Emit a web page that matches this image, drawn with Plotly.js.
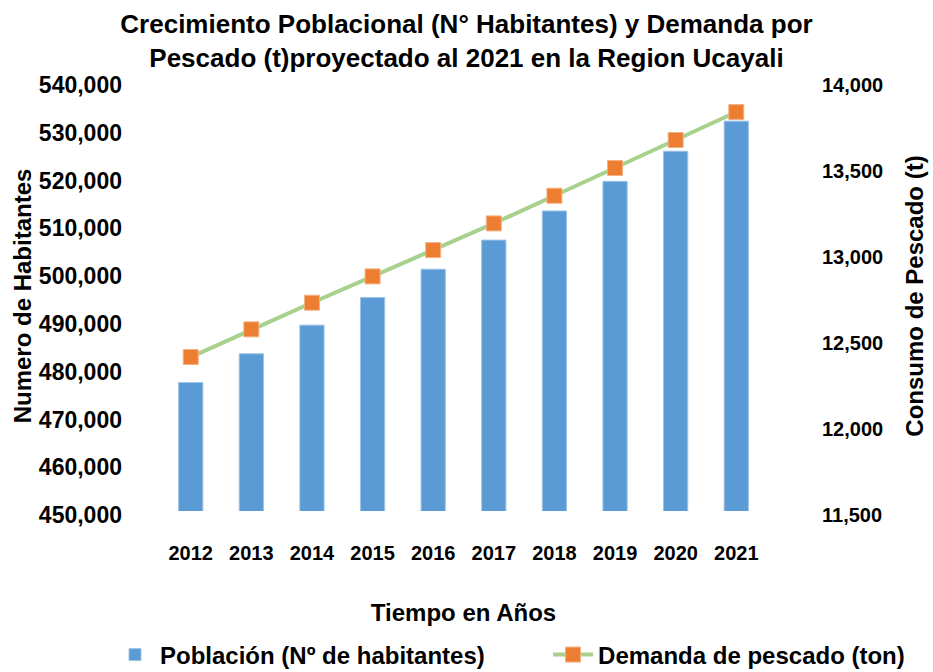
<!DOCTYPE html>
<html>
<head>
<meta charset="utf-8">
<script src="https://cdn.plot.ly/plotly-3.0.1.min.js"></script>
<style>html,body{margin:0;padding:0;background:#fff;}#chart{width:933px;height:672px;}</style>
</head>
<body>
<div id="chart"></div>
<script>
const years = ['2012','2013','2014','2015','2016','2017','2018','2019','2020','2021'];
const poblacion = [476900, 482900, 488900, 494700, 500600, 506700, 512800, 519000, 525300, 531600];
const demanda = [12395, 12556, 12711, 12864, 13017, 13172, 13333, 13494, 13657, 13820];
const leftTicks = [450000, 460000, 470000, 480000, 490000, 500000, 510000, 520000, 530000, 540000];
const rightTicks = [11500, 12000, 12500, 13000, 13500, 14000];

const FONT = '"Liberation Sans", Arial, sans-serif';

const traces = [
  {
    type: 'bar', x: years, y: poblacion, name: 'Población (Nº de habitantes)',
    marker: {color: '#5B9BD5', line: {color: '#9DC3E6', width: 1}},
    yaxis: 'y', legend: 'legend'
  },
  {
    type: 'scatter', mode: 'lines+markers', x: years, y: demanda, name: 'Demanda de pescado (ton)',
    line: {color: '#A9D18E', width: 4},
    marker: {symbol: 'square', size: 15, color: '#ED7D31', line: {color: '#F4B183', width: 1}},
    yaxis: 'y2', legend: 'legend2'
  }
];

const legendFont = {family: FONT, size: 24, weight: 'bold', color: '#000'};

const layout = {
  width: 933, height: 672,
  margin: {l: 150, r: 156, t: 81, b: 161},
  paper_bgcolor: '#fff', plot_bgcolor: '#fff',
  font: {family: FONT, color: '#000', size: 20, weight: 'bold'},
  title: {
    text: '<b>Crecimiento Poblacional (N° Habitantes) y Demanda por<br>Pescado (t)proyectado al 2021 en la Region Ucayali</b>',
    font: {family: FONT, size: 26, color: '#000'},
    x: 0.5, xanchor: 'center', y: 0.951, yanchor: 'middle'
  },
  bargap: 0.6,
  xaxis: {
    type: 'category', showgrid: false, zeroline: false, showline: false, ticks: '',
    tickfont: {family: FONT, size: 20, weight: 'bold'}, ticklabelstandoff: 28,
    title: {text: '<b>Tiempo en Años</b>', font: {family: FONT, size: 24}, standoff: 41}
  },
  yaxis: {
    range: [450000, 540000], tickvals: leftTicks, tickformat: ',d',
    showgrid: false, zeroline: false, showline: false, ticks: '',
    tickfont: {family: FONT, size: 23, weight: 'bold'}, ticklabelstandoff: 27, ticklabelshift: 4,
    title: {text: '<b>Numero de Habitantes</b>', font: {family: FONT, size: 24}, standoff: 0}
  },
  yaxis2: {
    range: [11500, 14000], tickvals: rightTicks, tickformat: ',d',
    overlaying: 'y', side: 'right',
    showgrid: false, zeroline: false, showline: false, ticks: '',
    tickfont: {family: FONT, size: 20, weight: 'bold'}, ticklabelstandoff: 44, ticklabelshift: 4,
    title: {text: '<b>Consumo de Pescado (t)</b>', font: {family: FONT, size: 24}, standoff: 24}
  },
  showlegend: true,
  legend: {
    orientation: 'h', xref: 'container', yref: 'container',
    x: 0.1179, xanchor: 'left', y: 0.0253, yanchor: 'middle',
    font: legendFont, itemwidth: 40, bgcolor: 'rgba(0,0,0,0)'
  },
  legend2: {
    orientation: 'h', xref: 'container', yref: 'container',
    x: 0.5874, xanchor: 'left', y: 0.0253, yanchor: 'middle',
    font: legendFont, itemwidth: 40, bgcolor: 'rgba(0,0,0,0)'
  }
};

Plotly.newPlot('chart', traces, layout, {displayModeBar: false, staticPlot: true});
</script>
</body>
</html>
